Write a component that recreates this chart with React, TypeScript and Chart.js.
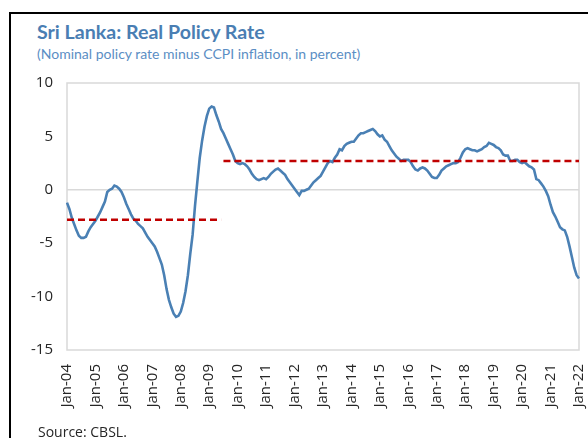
import React, { useEffect, useRef } from "react";
import { Chart, registerables } from "chart.js";

Chart.register(...registerables);

const monthNames = ["Jan","Feb","Mar","Apr","May","Jun","Jul","Aug","Sep","Oct","Nov","Dec"];
const years = ["04","05","06","07","08","09","10","11","12","13","14","15","16","17","18","19","20","21"];

const categories: string[] = [];
years.forEach((y) => monthNames.forEach((m) => categories.push(`${m}-${y}`)));
categories.push("Jan-22");

const rate2004 = [-1.2, -1.8, -2.6, -3.2, -3.8, -4.3, -4.5, -4.5, -4.4, -3.9, -3.5, -3.2];
const rate2005 = [-2.9, -2.5, -2.1, -1.6, -1.1, -0.2, 0.0, 0.1, 0.4, 0.3, 0.1, -0.2];
const rate2006 = [-0.7, -1.3, -1.8, -2.3, -2.7, -2.9, -3.2, -3.4, -3.6, -4.0, -4.4, -4.7];
const rate2007 = [-5.0, -5.3, -5.8, -6.4, -7.0, -8.0, -9.3, -10.3, -11.0, -11.6, -11.9, -11.8];
const rate2008 = [-11.4, -10.6, -9.5, -8.0, -6.0, -4.2, -1.5, 0.8, 3.0, 4.6, 5.9, 6.9];
const rate2009 = [7.6, 7.8, 7.7, 7.0, 6.4, 5.7, 5.3, 4.8, 4.3, 3.8, 3.3, 2.7];
const rate2010 = [2.5, 2.4, 2.5, 2.4, 2.2, 1.9, 1.5, 1.2, 1.0, 0.9, 1.0, 1.1];
const rate2011 = [1.0, 1.2, 1.5, 1.7, 1.9, 2.0, 1.8, 1.6, 1.4, 1.0, 0.7, 0.4];
const rate2012 = [0.1, -0.2, -0.5, -0.1, -0.1, 0.0, 0.1, 0.4, 0.7, 0.9, 1.1, 1.3];
const rate2013 = [1.7, 2.1, 2.5, 2.7, 2.6, 3.0, 3.3, 3.8, 3.7, 4.1, 4.3, 4.4];
const rate2014 = [4.5, 4.5, 4.8, 5.1, 5.3, 5.3, 5.4, 5.5, 5.6, 5.7, 5.5, 5.2];
const rate2015 = [5.0, 5.1, 4.7, 4.5, 4.1, 3.7, 3.4, 3.1, 2.9, 2.7, 2.8, 2.8];
const rate2016 = [2.8, 2.6, 2.2, 1.9, 1.8, 2.0, 2.1, 2.0, 1.8, 1.5, 1.2, 1.1];
const rate2017 = [1.1, 1.4, 1.8, 2.0, 2.2, 2.3, 2.4, 2.5, 2.5, 2.6, 3.0, 3.5];
const rate2018 = [3.8, 3.9, 3.8, 3.7, 3.7, 3.6, 3.7, 3.8, 4.0, 4.1, 4.4, 4.3];
const rate2019 = [4.2, 4.0, 3.9, 3.7, 3.3, 3.2, 3.2, 2.7, 2.7, 2.8, 2.8, 2.6];
const rate2020 = [2.5, 2.6, 2.4, 2.2, 2.1, 1.9, 1.0, 0.9, 0.6, 0.3, -0.1, -0.6];
const rate2021 = [-1.4, -2.1, -2.5, -3.0, -3.5, -3.7, -3.8, -4.4, -5.3, -6.3, -7.3, -8.0];
const rate2022 = [-8.3];

const realRate = [
  ...rate2004, ...rate2005, ...rate2006, ...rate2007, ...rate2008, ...rate2009,
  ...rate2010, ...rate2011, ...rate2012, ...rate2013, ...rate2014, ...rate2015,
  ...rate2016, ...rate2017, ...rate2018, ...rate2019, ...rate2020, ...rate2021, ...rate2022,
];

// Period averages (dashed lines)
const avgPeriod1 = -2.8;
const avgPeriod1Start = "Jan-04";
const avgPeriod1End = "Jun-09";
const avgPeriod2 = 2.7;
const avgPeriod2Start = "Jul-09";
const avgPeriod2End = "Jan-22";

const yTicks = [10, 5, 0, -5, -10, -15];

function avgSeries(value: number, start: string, end: string) {
  const s = categories.indexOf(start);
  const e = categories.indexOf(end);
  return categories.map((_, i) => (i >= s && i <= e ? value : null));
}

const FONT = "'Open Sans', 'Noto Sans', sans-serif";
const TITLE_FONT = "Lato, 'Open Sans', sans-serif";

const boxPlugin = {
  id: "plotBox",
  beforeDatasetsDraw(chart: any) {
    const { ctx, chartArea } = chart;
    ctx.save();
    ctx.strokeStyle = "#d9d9d9";
    ctx.lineWidth = 1.5;
    ctx.strokeRect(chartArea.left, chartArea.top, chartArea.right - chartArea.left, chartArea.bottom - chartArea.top);
    ctx.restore();
  },
};

export default function App() {
  const ref = useRef<HTMLCanvasElement | null>(null);

  useEffect(() => {
    if (!ref.current) return;
    const chart = new Chart(ref.current, {
      type: "line",
      data: {
        labels: categories,
        datasets: [
          {
            data: realRate,
            borderColor: "#4a80b4",
            borderWidth: 2.6,
            pointRadius: 0,
            tension: 0,
            order: 2,
          },
          {
            data: avgSeries(avgPeriod1, avgPeriod1Start, avgPeriod1End),
            borderColor: "#c00000",
            borderWidth: 2.6,
            borderDash: [7, 4],
            pointRadius: 0,
            spanGaps: false,
            order: 1,
          },
          {
            data: avgSeries(avgPeriod2, avgPeriod2Start, avgPeriod2End),
            borderColor: "#c00000",
            borderWidth: 2.6,
            borderDash: [7, 4],
            pointRadius: 0,
            spanGaps: false,
            order: 1,
          },
        ],
      },
      options: {
        animation: false,
        responsive: false,
        maintainAspectRatio: false,
        layout: { padding: { top: 13, right: 9, left: 0, bottom: 0 } },
        plugins: { legend: { display: false }, tooltip: { enabled: false }, title: { display: false } },
        scales: {
          x: {
            type: "category",
            offset: false,
            grid: { display: false },
            border: { display: false },
            ticks: {
              autoSkip: false,
              maxRotation: 90,
              minRotation: 90,
              padding: 6,
              color: "#262626",
              font: { family: FONT, size: 15 },
              callback: (_v: any, i: number) => (categories[i].startsWith("Jan") ? categories[i] : null),
            },
            afterFit: (scale: any) => {
              scale.height = 88;
              scale.paddingLeft = 0;
              scale.paddingRight = 0;
            },
          },
          y: {
            min: -15,
            max: 10,
            afterBuildTicks: (scale: any) => {
              scale.ticks = yTicks.map((v) => ({ value: v }));
            },
            grid: {
              color: (c: any) => (c.tick && c.tick.value === 0 ? "#d9d9d9" : "rgba(0,0,0,0)"),
              lineWidth: 1.5,
              drawTicks: false,
            },
            border: { display: false },
            ticks: {
              padding: 14,
              color: "#262626",
              font: { family: FONT, size: 15 },
            },
            afterFit: (scale: any) => {
              scale.width = 67;
              scale.paddingTop = 0;
              scale.paddingBottom = 0;
            },
          },
        },
      },
      plugins: [boxPlugin],
    });
    return () => chart.destroy();
  }, []);

  return (
    <div style={{ position: "fixed", left: 0, top: 0, width: 588, height: 438, overflow: "hidden", background: "#fff", fontFamily: FONT }}>
      <div style={{ position: "absolute", left: 9, top: 12, width: 640, height: 500, border: "2px solid #000", boxSizing: "border-box" }} />
      <div style={{ position: "absolute", left: 37, top: 19, fontFamily: TITLE_FONT, fontSize: 19.6, fontWeight: 700, color: "#4a7eb3", whiteSpace: "nowrap", lineHeight: "26px" }}>
        Sri Lanka: Real Policy Rate
      </div>
      <div style={{ position: "absolute", left: 37, top: 44, fontFamily: TITLE_FONT, fontSize: 14, color: "#5b8ec4", whiteSpace: "nowrap", lineHeight: "20px" }}>
        (Nominal policy rate minus CCPI inflation, in percent)
      </div>
      <canvas ref={ref} width={588} height={368} style={{ position: "absolute", left: 0, top: 70, width: 588, height: 368 }} />
      <div style={{ position: "absolute", left: 38, top: 422, fontSize: 14, color: "#262626", whiteSpace: "nowrap", lineHeight: "20px" }}>
        Source: CBSL.
      </div>
    </div>
  );
}
